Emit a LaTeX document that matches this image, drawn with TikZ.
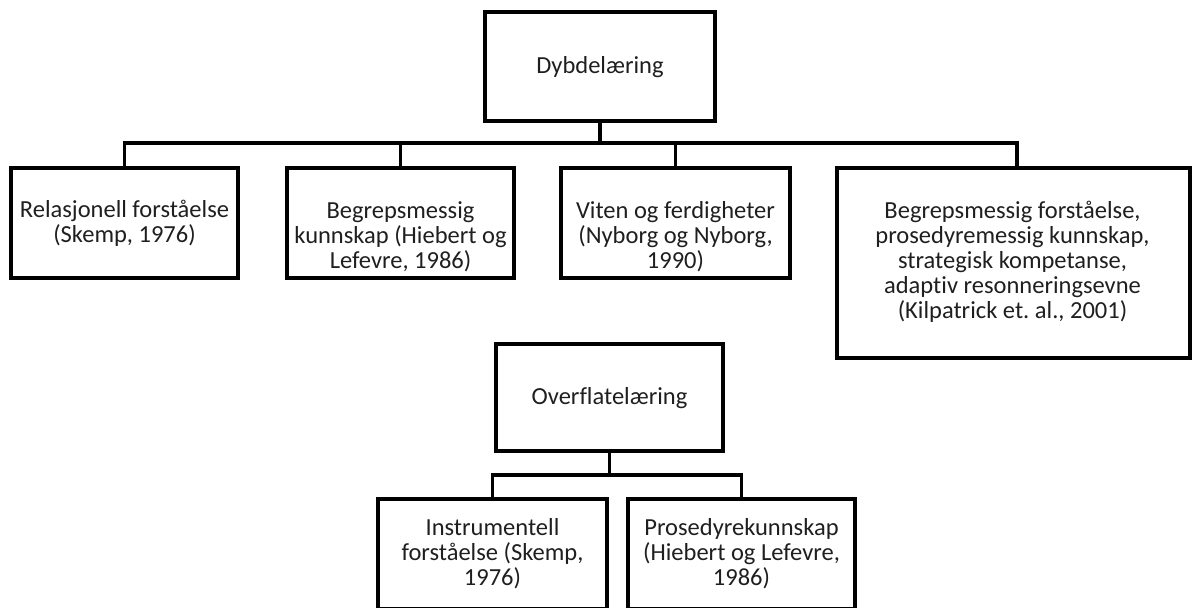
\documentclass[tikz,border=0pt]{standalone}
\usepackage{fontspec}
\setmainfont{Carlito}[Ligatures=NoCommon]
\frenchspacing
\begin{document}
\begin{tikzpicture}[x=1pt,y=-1pt,
  box/.style={draw=black, line width=3.2pt, rectangle, inner sep=0pt},
  txt/.style={align=center, inner sep=0pt, text=black!88, font=\fontsize{24.5}{25}\selectfont},
  conn/.style={draw=black, line width=3.2pt}]
\useasboundingbox (0,0) rectangle (1192,608);
% boxes
\node[box, minimum width=230pt, minimum height=109pt] (D) at (600,66.5) {};
\node[box, minimum width=227pt, minimum height=110pt] (b1) at (124.5,223) {};
\node[box, minimum width=227pt, minimum height=110pt] (b2) at (400.5,223) {};
\node[box, minimum width=229pt, minimum height=110pt] (b3) at (675.5,223) {};
\node[box, minimum width=353pt, minimum height=190pt] (b4) at (1013.5,263) {};
\node[box, minimum width=227pt, minimum height=107pt] (O) at (609.5,397.5) {};
\node[box, minimum width=229pt, minimum height=110pt] (c1) at (492.5,554) {};
\node[box, minimum width=227pt, minimum height=110pt] (c2) at (741.5,554) {};
% texts
\node[txt] (tD) at (600,67) {Dybdelæring};
\node[txt] (t1) at (124.5,223.5) {Relasjonell forståelse\\(Skemp, 1976)};
\node[txt] (t2) at (400.5,237) {Begrepsmessig\\kunnskap (Hiebert og\\Lefevre, 1986)};
\node[txt] (t3) at (675.5,237) {Viten og ferdigheter\\(Nyborg og Nyborg,\\1990)};
\node[txt] (t4) at (1012.5,261.5) {Begrepsmessig forståelse,\\prosedyremessig kunnskap,\\strategisk kompetanse,\\adaptiv resonneringsevne\\(Kilpatrick et. al., 2001)};
\node[txt] (tO) at (609.5,398) {Overflatelæring};
\node[txt] (tc1) at (492.5,554) {Instrumentell\\forståelse (Skemp,\\1976)};
\node[txt] (tc2) at (741.5,554) {Prosedyrekunnskap\\(Hiebert og Lefevre,\\1986)};
% connectors
\coordinate (j1) at (600,143);
\coordinate (j2) at (609.5,475);
\draw[conn] (D.south) -- (j1);
\draw[conn] (b1.north) -- (b1.north |- j1) -- ([xshift=3.5pt]b4.north |- j1) -- ([xshift=3.5pt]b4.north);
\draw[conn] (b2.north) -- (b2.north |- j1);
\draw[conn] (b3.north) -- (b3.north |- j1);
\draw[conn] (O.south) -- (j2);
\draw[conn] (c1.north) -- (c1.north |- j2) -- (c2.north |- j2) -- (c2.north);
\end{tikzpicture}
\end{document}
